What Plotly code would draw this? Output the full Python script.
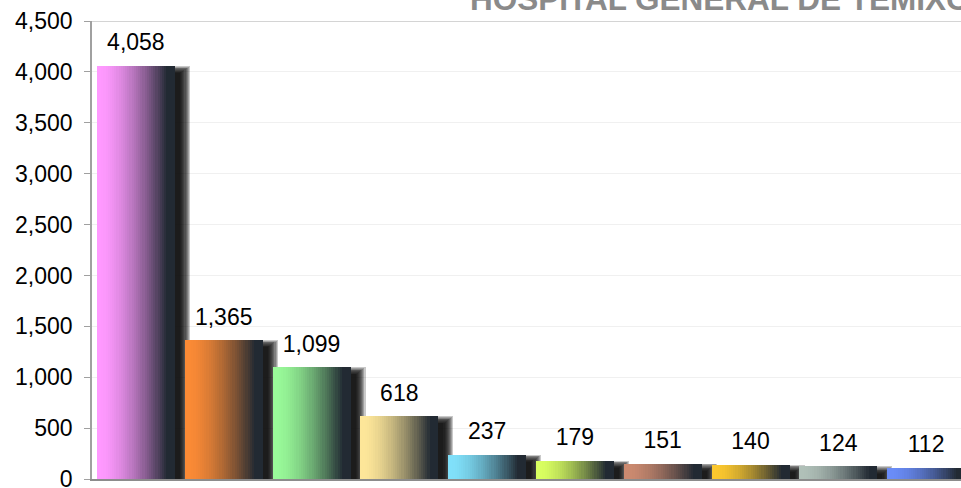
import plotly.graph_objects as go

# ---- data ----
categories = list(range(10))
values = [4058, 1365, 1099, 618, 237, 179, 151, 140, 124, 112]
light_colors = ['#ff99ff', '#fb8a35', '#99fa99', '#fde699', '#80e0fa',
                '#d9ff60', '#cc8a70', '#fcc82e', '#b0c0b8', '#6a8cf8']
dark_color = '#222a33'
title_text = 'HOSPITAL GENERAL DE TEMIXCO'
y_ticks = list(range(0, 4501, 500))
y_tick_labels = [f'{v:,}' for v in y_ticks]

FONT = 'Liberation Sans, Arial, sans-serif'
W, H = 961, 488
ML, MR, MT, MB = 92, 0, 21, 9
pitch_px = 87.8
x_hi = -0.5 + (W - ML - MR) / pitch_px
y_unit_per_px = 4500 / (H - MT - MB)
x_unit_per_px = 1 / pitch_px

bw = 78 / pitch_px  # bar width in category units


def hex2rgb(h):
    h = h.lstrip('#')
    return tuple(int(h[i:i + 2], 16) for i in (0, 2, 4))


def mix(c1, c2, t):
    a, b = hex2rgb(c1), hex2rgb(c2)
    return 'rgb(%d,%d,%d)' % tuple(round(a[i] + (b[i] - a[i]) * t) for i in range(3))


fig = go.Figure()

# ---- soft shadows (behind bars): stacked translucent layers ----
n_sh = 10
for j in range(n_sh):
    rpx = 15 - 1.1 * j
    dpx = 0.8 * j
    start = -bw / 2 + 4 * x_unit_per_px
    width = bw + (rpx - 4) * x_unit_per_px
    fig.add_trace(go.Bar(
        x=categories,
        y=[max(v - dpx * y_unit_per_px, 0) for v in values],
        width=width, offset=start,
        marker=dict(color='rgba(10,10,10,0.22)', line=dict(width=0)),
        hoverinfo='skip', showlegend=False))

# ---- gradient bars (many thin slices) ----
N = 36
for k in range(N):
    t = (k + 0.5) / N
    tt = min(1.0, max(0.0, (t - 0.04) / 0.86)) ** 1.6
    cols = [mix(c, dark_color, tt) for c in light_colors]
    fig.add_trace(go.Bar(
        x=categories, y=values,
        width=bw / N * 1.6 if k < N - 1 else bw / N,
        offset=-bw / 2 + k * bw / N,
        marker=dict(color=cols, line=dict(width=0)),
        hoverinfo='skip', showlegend=False))

# ---- data labels ----
fig.add_trace(go.Scatter(
    x=categories, y=values,
    mode='markers+text',
    text=[f'{v:,}' for v in values],
    textposition='top center',
    textfont=dict(family=FONT, size=23, color='#000000'),
    marker=dict(size=14, opacity=0),
    cliponaxis=False, hoverinfo='skip', showlegend=False))

# ---- title (partially off-canvas as in the reference) ----
fig.add_annotation(
    text=f'<b>{title_text}</b>', xref='paper', yref='paper',
    x=(468 - ML) / (W - ML - MR), y=1 + (MT + 1.0) / (H - MT - MB),
    xanchor='left', yanchor='middle', showarrow=False,
    font=dict(family=FONT, size=31.5, color='#8a8a8a'))

# top border line at 4500
fig.add_shape(type='line', xref='paper', yref='y', x0=0, x1=1, y0=4500, y1=4500,
              line=dict(color='#d4d4d4', width=2))

fig.update_layout(
    width=W, height=H,
    margin=dict(l=ML, r=MR, t=MT, b=MB, autoexpand=False),
    paper_bgcolor='white', plot_bgcolor='white',
    barmode='overlay', bargap=0,
    font=dict(family=FONT, size=23, color='#000000'),
    xaxis=dict(range=[-0.5, x_hi], showticklabels=False, ticks='',
               showgrid=False, zeroline=False, showline=True, automargin=False,
               linecolor='#8c8c8c', linewidth=2, fixedrange=True),
    yaxis=dict(range=[0, 4500], tickvals=y_ticks, ticktext=y_tick_labels,
               ticks='outside', ticklen=6, tickcolor='#a0a0a0', tickwidth=1,
               showgrid=True, gridcolor='#f0f0f0', gridwidth=1, automargin=False,
               zeroline=False, showline=True, linecolor='#a0a0a0', linewidth=1.5,
               ticklabelstandoff=7, ticklabeloverflow='allow',
               tickfont=dict(family=FONT, size=23, color='#000000'),
               fixedrange=True),
)

fig.write_html(
    'out.html',
    config={'displayModeBar': False},
    post_script="document.body.style.margin='0';document.body.style.overflow='hidden';"
                "document.documentElement.style.overflow='hidden';")
